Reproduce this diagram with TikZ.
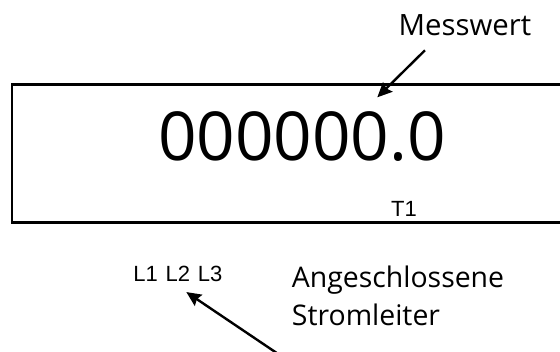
\documentclass[tikz,border=0pt]{standalone}
\usepackage{fontspec}
\setmainfont{Open Sans}
\newfontfamily\arialfont{Liberation Sans}
\usetikzlibrary{positioning,arrows.meta}

\begin{document}
\begin{tikzpicture}[x=0.75pt,y=0.75pt,
    label text/.style={font=\fontsize{21.3}{26}\selectfont,inner sep=0pt},
    small text/.style={font=\arialfont\fontsize{16.5}{18}\selectfont,inner sep=0pt},
    pfeil/.style={-{Stealth[length=11pt,width=10pt,inset=1.5pt]},line width=1.8pt}]
    \useasboundingbox (0,0) rectangle (560,351);
    \clip (0,0) rectangle (560,351);
    \draw[line width=2pt] (12,266.5) rectangle (590,128.5);

    \node[font=\fontsize{50.6}{60}\selectfont,inner sep=0pt,anchor=base] (wert) at (302,191) {000000.0};
    \node[small text,anchor=base] (t1) at (404,134.3) {T1};
    \node[label text,font=\fontsize{22}{26}\selectfont,anchor=base] (messwert) at (465,315) {Messwert};

    \node[small text,anchor=base west] (l1) at (133,70) {L1};
    \node[small text,anchor=base west] (l2) [right=5.5pt of l1.base east,anchor=base west] {L2};
    \node[small text,anchor=base west] (l3) [right=5.5pt of l2.base east,anchor=base west] {L3};

    \node[label text,anchor=base west] (angeschl) at (291.7,63.3) {Angeschlossene};
    \node[label text,anchor=base west] (strom) at (291.7,26) {Stromleiter};

    \coordinate (wert spitze) at (377.3,253.7);
    \coordinate (leiter ende) at (294.5,-14);
    \draw[pfeil] ([xshift=-30,yshift=-10.7]messwert.base) -- (wert spitze);
    \draw[pfeil] (leiter ende) -- ([xshift=-3,yshift=-8.3]l2.base east);
\end{tikzpicture}
\end{document}
